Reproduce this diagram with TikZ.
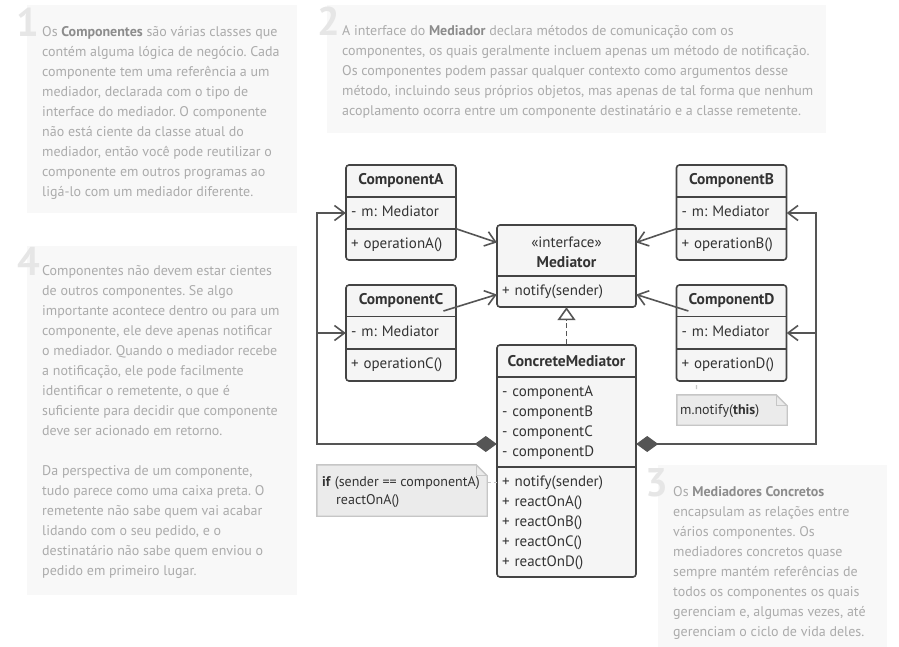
\documentclass[tikz,border=0pt]{standalone}
\usepackage{fontspec}
\setmainfont{PT Sans}
\usetikzlibrary{arrows.meta,calc}
\definecolor{bgc}{HTML}{F8F8F8}
\definecolor{txtc}{HTML}{ABABAB}
\definecolor{kwc}{HTML}{8C8C8C}
\definecolor{numc}{HTML}{E6E6E6}
\definecolor{lnc}{HTML}{555555}
\definecolor{boxc}{HTML}{444444}
\definecolor{boxfill}{HTML}{F5F5F5}
\definecolor{notefill}{HTML}{EBEBEB}
\definecolor{noteline}{HTML}{C6C6C6}
\definecolor{clstext}{HTML}{333333}
\newcommand{\kwd}[1]{\textcolor{kwc}{\textbf{#1}}}
\newcommand{\fst}{\rule{0pt}{14pt}}
\frenchspacing
\begin{document}
\begin{tikzpicture}[x=1pt,y=-1pt,
  body/.style={font=\frenchspacing\fontsize{14}{20}\selectfont, text=txtc, align=left, inner sep=0pt, anchor=north west},
  bignum/.style={font=\bfseries\fontsize{40}{40}\selectfont, text=numc, inner sep=0pt, anchor=base east},
  cls/.style={draw=boxc, line width=1.6pt, fill=boxfill, rounded corners=3pt, inner sep=0pt},
  hdr/.style={font=\bfseries\fontsize{15.5}{18}\selectfont, text=clstext, inner sep=0pt},
  row/.style={font=\frenchspacing\fontsize{15}{20}\selectfont, text=clstext, inner xsep=5pt, inner ysep=0pt, align=left, text height=10.5pt, text depth=3.5pt},
  mrow/.style={font=\frenchspacing\fontsize{15}{20}\selectfont, text=clstext, inner xsep=5pt, inner ysep=0pt, align=left, anchor=north},
  div/.style={draw=boxc, line width=1.6pt},
  lnk/.style={draw=lnc, line width=1.6pt},
  barb/.style={lnk, -{Straight Barb[length=10pt,width=15pt]}},
  comp/.style={lnk, {Diamond[length=22pt,width=16pt]}-{Straight Barb[length=10pt,width=15pt]}},
  notebg/.style={fill=notefill, draw=noteline, line width=1.4pt},
  notetxt/.style={font=\frenchspacing\fontsize{14}{18}\selectfont, text=clstext, inner sep=0pt, align=left, anchor=north west}
]
\useasboundingbox (0,0) rectangle (899,647);
\fill[white] (0,0) rectangle (899,647);

% ---- explanation boxes
\fill[bgc] (27,5) rectangle (297,213);
\fill[bgc] (327,5) rectangle (826,133);
\fill[bgc] (27,246) rectangle (297,595);
\fill[bgc] (658,465) rectangle (887,647);

\node[bignum] (n1) at (39,36.5) {1};
\node[bignum] (n2) at (340,35.5) {2};
\node[bignum] (n4) at (40,275.5) {4};
\node[bignum] (n3) at (668,496.5) {3};

\node[body] (t1) at (42,22.5) {\fst Os \kwd{Componentes} são várias classes que\\
contém alguma lógica de negócio. Cada\\
componente tem uma referência a um\\
mediador, declarada com o tipo de\\
interface do mediador. O componente\\
não está ciente da classe atual do\\
mediador, então você pode reutilizar o\\
componente em outros programas ao\\
ligá-lo com um mediador diferente.};

\node[body] (t2) at (342,21.5) {\fst A interface do \kwd{Mediador} declara métodos de comunicação com os\\
componentes, os quais geralmente incluem apenas um método de notificação.\\
Os componentes podem passar qualquer contexto como argumentos desse\\
método, incluindo seus próprios objetos, mas apenas de tal forma que nenhum\\
acoplamento ocorra entre um componente destinatário e a classe remetente.};

\node[body] (t4) at (42,261.5) {\fst Componentes não devem estar cientes\\
de outros componentes. Se algo\\
importante acontece dentro ou para um\\
componente, ele deve apenas notificar\\
o mediador. Quando o mediador recebe\\
a notificação, ele pode facilmente\\
identificar o remetente, o que é\\
suficiente para decidir que componente\\
deve ser acionado em retorno.\\[20pt]
Da perspectiva de um componente,\\
tudo parece como uma caixa preta. O\\
remetente não sabe quem vai acabar\\
lidando com o seu pedido, e o\\
destinatário não sabe quem enviou o\\
pedido em primeiro lugar.};

\node[body] (t3) at (673,482.5) {\fst Os \kwd{Mediadores Concretos}\\
encapsulam as relações entre\\
vários componentes. Os\\
mediadores concretos quase\\
sempre mantém referências de\\
todos os componentes os quais\\
gerenciam e, algumas vezes, até\\
gerenciam o ciclo de vida deles.};

% ---- ComponentA
\node[cls, minimum width=110pt, minimum height=95pt] (A) at (401,212.5) {};
\node[hdr] (Ah) at (401,181) {ComponentA};
\node[row, text width=100pt, minimum height=32pt] (Aa) at (401,213) {- m: Mediator};
\node[row, text width=100pt, minimum height=31pt] (Ao) at (401,244.5) {+ operationA()};
\draw[div] (Aa.north west) -- (Aa.north east);
\draw[div] (Ao.north west) -- (Ao.north east);

% ---- ComponentC
\node[cls, minimum width=110pt, minimum height=96pt] (C) at (401,333) {};
\node[hdr] (Ch) at (401,301) {ComponentC};
\node[row, text width=100pt, minimum height=33pt] (Ca) at (401,333) {- m: Mediator};
\node[row, text width=100pt, minimum height=32pt] (Co) at (401,365) {+ operationC()};
\draw[div] (Ca.north west) -- (Ca.north east);
\draw[div] (Co.north west) -- (Co.north east);

% ---- ComponentB
\node[cls, minimum width=110pt, minimum height=95pt] (B) at (731.5,212.5) {};
\node[hdr] (Bh) at (731.5,181) {ComponentB};
\node[row, text width=100pt, minimum height=32pt] (Ba) at (731.5,213) {- m: Mediator};
\node[row, text width=100pt, minimum height=31pt] (Bo) at (731.5,244.5) {+ operationB()};
\draw[div] (Ba.north west) -- (Ba.north east);
\draw[div] (Bo.north west) -- (Bo.north east);

% ---- ComponentD
\node[cls, minimum width=110pt, minimum height=96pt] (D) at (731.5,333) {};
\node[hdr] (Dh) at (731.5,301) {ComponentD};
\node[row, text width=100pt, minimum height=33pt] (Da) at (731.5,333) {- m: Mediator};
\node[row, text width=100pt, minimum height=32pt] (Do) at (731.5,365) {+ operationD()};
\draw[div] (Da.north west) -- (Da.north east);
\draw[div] (Do.north west) -- (Do.north east);

% ---- Mediator
\node[cls, minimum width=139pt, minimum height=82pt] (M) at (566.5,266) {};
\node[inner sep=0pt, minimum width=139pt, minimum height=51pt] (Mh) at (566.5,250.5) {};
\node[font=\fontsize{15}{18}\selectfont, text=clstext, inner sep=0pt] (Mst) at (566.5,242) {«interface»};
\node[hdr] (Mn0) at (566.5,262) {Mediator};
\node[row, text width=129pt, minimum height=31pt] (Mn) at (566.5,291.5) {+ notify(sender)};
\draw[div] (Mn.north west) -- (Mn.north east);

% ---- ConcreteMediator
\node[cls, minimum width=139pt, minimum height=232pt] (CM) at (566.5,461) {};
\node[hdr] (CMh) at (566.5,361) {ConcreteMediator};
\node[inner sep=0pt, minimum width=139pt, minimum height=90pt] (CMa) at (566.5,422) {};
\node[inner sep=0pt, minimum width=139pt, minimum height=110pt] (CMo) at (566.5,522) {};
\node[mrow, text width=129pt] (CMat) at (566.5,382) {\fst - componentA\\- componentB\\- componentC\\- componentD};
\node[mrow, text width=129pt] (CMot) at (566.5,472) {\fst + notify(sender)\\+ reactOnA()\\+ reactOnB()\\+ reactOnC()\\+ reactOnD()};
\draw[div] (CMa.north west) -- (CMa.north east);
\draw[div] (CMo.north west) -- (CMo.north east);

% ---- notes
\node[inner sep=0pt, minimum width=110pt, minimum height=30pt] (N1) at (732,410) {};
\filldraw[notebg] (N1.south west) -- (N1.north west) -- ($(N1.north east)+(-11,0)$) -- ($(N1.north east)+(0,11)$) -- (N1.south east) -- cycle;
\draw[draw=noteline, line width=1.2pt] ($(N1.north east)+(-11,0)$) -- ($(N1.north east)+(-11,11)$) -- ($(N1.north east)+(0,11)$);
\node[notetxt] (N1t) at (680,400) {\fst m.notify(\textbf{this})};
\draw[draw=noteline, line width=1.2pt, dash pattern=on 0pt off 4pt on 4pt off 20pt] ($(Do.south west)+(20,0)$) -- ($(N1.north west)+(20,0)$);

\node[inner sep=0pt, minimum width=170pt, minimum height=51pt] (N2) at (402,490.5) {};
\filldraw[notebg] (N2.south west) -- (N2.north west) -- ($(N2.north east)+(-11,0)$) -- ($(N2.north east)+(0,11)$) -- (N2.south east) -- cycle;
\draw[draw=noteline, line width=1.2pt] ($(N2.north east)+(-11,0)$) -- ($(N2.north east)+(-11,11)$) -- ($(N2.north east)+(0,11)$);
\node[notetxt] (N2t) at (322,472) {\fst\textbf{if} (sender == componentA)\\\hspace*{14pt}reactOnA()};
\coordinate (N2c) at ($(N2.east)+(0,-8)$);
\draw[draw=noteline, line width=1.2pt, dash pattern=on 4pt off 3pt] (N2c) -- (CMo.west |- N2c);

% ---- connectors
\draw[barb] (Ao.north east) -- ($(Mh.west)+(0,-8)$);
\draw[barb] ($(Ch.east)+(0,10)$) -- ($(Mn.west)+(0,3)$);
\draw[barb] (Bo.north west) -- ($(Mh.east)+(0,-8)$);
\draw[barb] ($(Dh.west)+(0,10)$) -- ($(Mn.east)+(0,3)$);

\draw[lnk, dash pattern=on 5pt off 3pt, -{Triangle[open, length=13pt, width=18pt, fill=white]}] (CMh.north |- CM.north) -- (Mn.south);

\coordinate (CMl) at ($(CMa.west)+(0,22)$);
\coordinate (CMr) at ($(CMa.east)+(0,22)$);
\coordinate (LB) at (317,444);
\coordinate (RB) at (816,444);
\draw[comp] (CMl) -- (LB) |- (Aa.west);
\draw[barb] (LB |- Ca.west) -- (Ca.west);
\draw[comp] (CMr) -- (RB) |- (Ba.east);
\draw[barb] (RB |- Da.east) -- (Da.east);
\end{tikzpicture}
\end{document}
